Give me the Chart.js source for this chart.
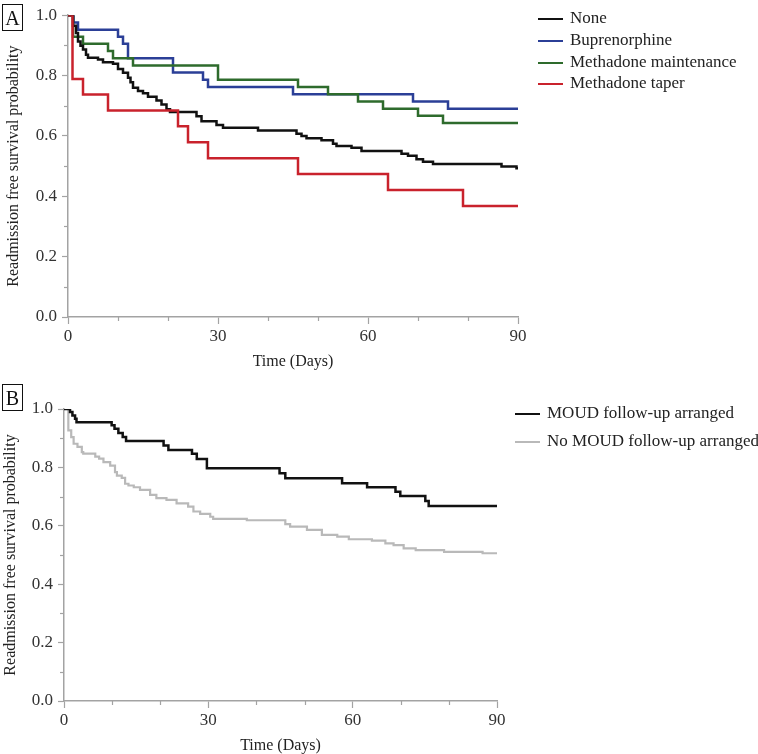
<!DOCTYPE html>
<html>
<head>
<meta charset="utf-8">
<script src="https://cdn.jsdelivr.net/npm/chart.js@4.4.1/dist/chart.umd.min.js"></script>
<style>
  body { margin: 0; background: #fff; font-family: "Liberation Serif", serif; }
  #wrap { position: relative; width: 758px; height: 754px; overflow: hidden; }
  #wrap canvas { position: absolute; left: 0; }
  .tag { position: absolute; left: 2px; width: 19px; height: 25px; border: 1.5px solid #111;
         font-size: 20px; line-height: 26px; text-align: center; color: #111; }
  .legend { position: absolute; font-size: 17px; color: #222; }
  .legend .item { position: absolute; left: 0; white-space: nowrap; }
  .legend .sw { display: inline-block; width: 25px; height: 0; border-top: 2.5px solid; vertical-align: middle; margin-right: 7px; }
</style>
</head>
<body>
<div id="wrap">
  <canvas id="chartA" width="758" height="376" style="top:0"></canvas>
  <canvas id="chartB" width="758" height="378" style="top:376px"></canvas>
  <div class="tag" style="top:4px">A</div>
  <div class="tag" style="top:384px">B</div>
  <div class="legend" id="legA" style="left:538px; top:0"></div>
  <div class="legend" id="legB" style="left:515px; top:0"></div>
</div>
<script>
// Panel A - by treatment
var noneDays = [0, 1, 1.6, 2, 2.5, 3, 3.6, 4, 6, 7, 9, 10, 11, 12, 12.5, 13, 14, 15, 16, 17.7, 18.7, 19.7, 20.4, 25.7, 26.7, 29.7, 31, 38, 45.7, 46.7, 47.7, 50.7, 53, 53.7, 56.7, 58.7, 66.7, 68, 69.7, 71, 73, 86.7, 89.7, 90];
var noneSurv = [1, 0.965, 0.941, 0.913, 0.899, 0.886, 0.869, 0.859, 0.853, 0.844, 0.839, 0.822, 0.809, 0.793, 0.778, 0.76, 0.749, 0.741, 0.73, 0.717, 0.704, 0.688, 0.679, 0.665, 0.649, 0.636, 0.627, 0.618, 0.607, 0.6, 0.592, 0.586, 0.574, 0.567, 0.561, 0.55, 0.541, 0.534, 0.523, 0.514, 0.507, 0.499, 0.493, 0.493];
var buprDays = [0, 1.1, 2, 10, 11, 12, 21, 27, 28, 45, 69, 76, 90];
var buprSurv = [1, 0.976, 0.952, 0.929, 0.905, 0.857, 0.81, 0.786, 0.762, 0.738, 0.714, 0.69, 0.69];
var maintDays = [0, 1, 3, 8, 9, 13, 30, 46, 52, 58, 63, 70, 75, 90];
var maintSurv = [1, 0.929, 0.905, 0.881, 0.857, 0.833, 0.786, 0.762, 0.738, 0.714, 0.69, 0.667, 0.643, 0.643];
var taperDays = [0, 0.9, 3, 8, 22, 24, 28, 46, 64, 79, 90];
var taperSurv = [1, 0.789, 0.737, 0.684, 0.632, 0.579, 0.526, 0.474, 0.421, 0.368, 0.368];

// Panel B - MOUD follow-up
var moudDays = [0, 1.25, 1.75, 2.3, 2.6, 9.9, 10.5, 11.3, 12.2, 12.9, 20.7, 21.7, 26.6, 27.6, 29.7, 44.8, 46, 57.8, 63, 68.9, 69.9, 75.1, 75.8, 90];
var moudSurv = [1, 0.99, 0.978, 0.967, 0.955, 0.944, 0.932, 0.918, 0.904, 0.89, 0.875, 0.86, 0.847, 0.829, 0.797, 0.78, 0.763, 0.746, 0.732, 0.717, 0.702, 0.685, 0.668, 0.668];
var noMoudDays = [0, 0.9, 1.5, 2, 2.8, 3.7, 4, 6.5, 7.3, 8.2, 9.6, 10.6, 11, 12, 12.7, 13.4, 14.5, 15.8, 17.9, 19.2, 21.3, 23.4, 25.8, 26.9, 28.3, 30.4, 31, 38, 46, 47, 50.5, 53.6, 56.8, 59.2, 64, 66.8, 68.5, 70.6, 73.1, 79, 87, 90];
var noMoudSurv = [1, 0.927, 0.904, 0.881, 0.87, 0.852, 0.847, 0.837, 0.83, 0.818, 0.806, 0.784, 0.772, 0.764, 0.744, 0.738, 0.732, 0.723, 0.706, 0.695, 0.689, 0.677, 0.666, 0.649, 0.641, 0.631, 0.624, 0.619, 0.606, 0.597, 0.586, 0.569, 0.563, 0.554, 0.549, 0.54, 0.534, 0.523, 0.517, 0.511, 0.506, 0.506];

var labelsA = ["None", "Buprenorphine", "Methadone maintenance", "Methadone taper"];
var labelsB = ["MOUD follow-up arranged", "No MOUD follow-up arranged"];
var xMajor = [0, 30, 60, 90];
var xMinor = [10, 20, 40, 50, 70, 80];
var yMinor = [0.1, 0.3, 0.5, 0.7, 0.9];

var axisColor = "#a3a3a3";
var fontFam = "'Liberation Serif', 'DejaVu Serif', serif";

function pts(days, surv) {
  return days.map(function (d, i) { return { x: d, y: surv[i] }; });
}

// little ticks between the labelled ones
var minorTicks = {
  id: "minorTicks",
  afterDraw: function (chart) {
    var ctx = chart.ctx, x = chart.scales.x, y = chart.scales.y;
    ctx.save();
    ctx.strokeStyle = axisColor;
    ctx.lineWidth = 1.2;
    xMinor.forEach(function (v) {
      var px = Math.round(x.getPixelForValue(v)) + 0.5;
      ctx.beginPath(); ctx.moveTo(px, x.top); ctx.lineTo(px, x.top + 4); ctx.stroke();
    });
    yMinor.forEach(function (v) {
      var py = Math.round(y.getPixelForValue(v)) + 0.5;
      ctx.beginPath(); ctx.moveTo(y.right - 4, py); ctx.lineTo(y.right, py); ctx.stroke();
    });
    ctx.restore();
  }
};

function makeChart(id, datasets, box) {
  return new Chart(document.getElementById(id), {
    type: "line",
    data: { datasets: datasets },
    plugins: [minorTicks],
    options: {
      responsive: false,
      animation: false,
      devicePixelRatio: 1,
      layout: { padding: { top: box.top, right: 758 - box.right, left: 0, bottom: 0 } },
      plugins: { legend: { display: false }, tooltip: { enabled: false } },
      elements: { point: { radius: 0 } },
      scales: {
        x: {
          type: "linear", min: 0, max: 90,
          afterBuildTicks: function (s) { s.ticks = xMajor.map(function (v) { return { value: v }; }); },
          afterFit: function (s) { s.height = box.h - box.bottom; },
          grid: { drawOnChartArea: false, color: axisColor, tickLength: 7, tickWidth: 1.2 },
          border: { color: axisColor, width: 1.5 },
          ticks: { color: "#333", padding: 2, maxRotation: 0, font: { family: fontFam, size: 17 } },
          title: { display: true, text: "Time (Days)", color: "#222", padding: { top: 0, bottom: box.xtPad },
                   font: { family: fontFam, size: 16, lineHeight: 1 } }
        },
        y: {
          type: "linear", min: 0, max: 1,
          ticks: { stepSize: 0.2, color: "#333", padding: 5, font: { family: fontFam, size: 17 },
                   callback: function (v) { return v.toFixed(1); } },
          afterFit: function (s) { s.width = box.left; },
          grid: { drawOnChartArea: false, color: axisColor, tickLength: 6, tickWidth: 1.2 },
          border: { color: axisColor, width: 1.5 },
          title: { display: true, text: "Readmission free survival probability", color: "#222",
                   padding: { top: box.ytPad, bottom: 0 }, font: { family: fontFam, size: 16, lineHeight: 1 } }
        }
      }
    }
  });
}

function line(label, days, surv, color, w) {
  return { label: label, data: pts(days, surv), stepped: true, borderColor: color,
           backgroundColor: color, borderWidth: w, fill: false, pointRadius: 0 };
}

var dsA = [
  line(labelsA[3], taperDays, taperSurv, "#c9222c", 2.5),
  line(labelsA[0], noneDays, noneSurv, "#111111", 2.5),
  line(labelsA[2], maintDays, maintSurv, "#2e6b2c", 2.5),
  line(labelsA[1], buprDays, buprSurv, "#2b3f97", 2.5)
];
var dsB = [
  line(labelsB[0], moudDays, moudSurv, "#111111", 2.5),
  line(labelsB[1], noMoudDays, noMoudSurv, "#b9b9b9", 2.2)
];

var chartA = makeChart("chartA", dsA, { top: 13, bottom: 317, left: 68, right: 518, h: 376, xtPad: 6, ytPad: 6 });
var chartB = makeChart("chartB", dsB, { top: 33, bottom: 325, left: 64, right: 497, h: 378, xtPad: 0, ytPad: 3 });

// legends built from the datasets, in the order of the labels
function buildLegend(elId, chart, labels, firstY, gap) {
  var el = document.getElementById(elId);
  labels.forEach(function (lab, i) {
    var ds = chart.data.datasets.filter(function (d) { return d.label === lab; })[0];
    var item = document.createElement("div");
    item.className = "item";
    item.style.top = (firstY + i * gap - 10) + "px";
    item.style.lineHeight = "20px";
    item.innerHTML = '<span class="sw" style="border-color:' + ds.borderColor + '"></span>' + lab;
    el.appendChild(item);
  });
}
buildLegend("legA", chartA, labelsA, 17.7, 21.9);
buildLegend("legB", chartB, labelsB, 413.3, 27.7);
</script>
</body>
</html>
